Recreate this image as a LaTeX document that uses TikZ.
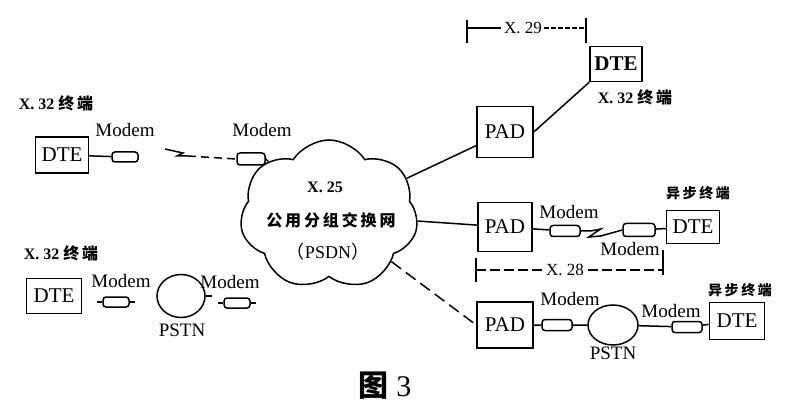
\documentclass[tikz,border=0pt]{standalone}
\usepackage{fontspec}
\setmainfont{Liberation Serif}
\newfontfamily\cjk{Noto Sans CJK SC}[LetterSpace=18]
\usetikzlibrary{positioning,shapes.geometric,shapes.symbols}

\begin{document}
\begin{tikzpicture}[x=1pt, y=-1pt,
    link/.style={line width=1.5pt},
    box/.style={draw, line width=1.5pt, inner sep=0pt, font=\fontsize{21}{23}\selectfont},
    modem/.style={draw, rounded corners=3pt, line width=1.5pt, inner sep=0pt,
      minimum width=30, minimum height=11},
    net/.style={draw, ellipse, line width=1.5pt, inner sep=0pt},
    lbl/.style={inner sep=0pt, font=\fontsize{19}{21}\selectfont},
    dim/.style={inner sep=0pt, font=\fontsize{17}{19}\selectfont},
    tag/.style={inner sep=0pt, font=\fontsize{16}{18}\selectfont\bfseries},
    cjktag/.style={inner sep=0pt, font=\cjk\bfseries\fontsize{14}{16}\selectfont}
  ]
  \useasboundingbox (0,0) rectangle (798,414);

  % X.25 分组交换网
  \node[cloud, cloud puffs=7, cloud puff arc=115, aspect=1.2, draw, line width=1.5pt,
    minimum width=178, minimum height=150, inner sep=0pt] (psdn) at (329,215) {};
  \node[tag] (x25) at (325,187) {X.\ 25};
  \node[inner sep=0pt, font=\cjk\bfseries\fontsize{16}{18}\selectfont] (gy) at (331,220) {公用分组交换网};
  \node[inner sep=0pt, font=\fontsize{18}{20}\selectfont] (psdnt) at (328,252) {{\cjk （}PSDN{\cjk ）}};

  % 左上 X.32 终端
  \node[tag] (t1) at (56,103) {X.\ 32\ {\cjk 终端}};
  \node[box, minimum width=53, minimum height=36] (dteA) at (62,155) {DTE};
  \node[modem, minimum width=26, minimum height=10] (mA) at (125,157) {};
  \node[lbl] (mAl) at (125,130) {Modem};
  \node[modem, minimum width=28, minimum height=12] (mB) at (251,159) {};
  \node[lbl] (mBl) at (262,130) {Modem};
  \coordinate (zA) at (165,149);
  \draw[link] (dteA) -- (mA);
  \draw[link] (zA) -- ++(18,4) -- ++(-6,3) -- ++(11,0) coordinate (zA2);
  \draw[link, dash pattern=on 8pt off 5pt] (zA2) -- (mB.west);
  \draw[link] (mB.east) -- (psdn);

  % 右上 PAD 与 X.32 终端
  \node[box, minimum width=56, minimum height=51] (pad1) at (505,132) {PAD};
  \node[box, minimum width=52, minimum height=35, font=\fontsize{21}{23}\selectfont\bfseries] (dteT) at (616,64) {DTE};
  \node[tag] (t2) at (635,97) {X.\ 32\ {\cjk 终端}};
  \draw[link] (psdn) -- (pad1);
  \draw[link] (pad1.east) -- (dteT.south west);

  \node[dim] (x29) at (523,28) {X.\ 29};
  \coordinate (x29a) at (467,28);
  \coordinate (x29b) at (586,28);
  \draw[link, shorten >=3pt] (x29a) -- (x29.west);
  \draw[link, dash pattern=on 5pt off 2pt, shorten <=2pt] (x29.east) -- (x29b);
  \draw[link] ([yshift=8pt]x29a) -- ([yshift=-15pt]x29a);
  \draw[link] ([yshift=10pt]x29b) -- ([yshift=-15pt]x29b);

  % 中右 异步终端
  \node[box, minimum width=54, minimum height=49] (pad2) at (505,227) {PAD};
  \node[modem] (mC) at (565,231) {};
  \node[lbl] (mCl) at (569,212) {Modem};
  \node[modem, minimum width=32, minimum height=13] (mD) at (639,230) {};
  \node[lbl] (mDl) at (630,249) {Modem};
  \node[box, minimum width=53, minimum height=33] (dteM) at (693,227) {DTE};
  \node[cjktag] (t3) at (698,193) {异步终端};
  \draw[link] (psdn) -- (pad2);
  \draw[link] (pad2) -- (mC);
  \draw[link] (mC.east) -- ++(10,0) -- ++(10,-2) -- ++(-12,8) -- ++(12,-1) -- (mD.west);
  \draw[link] (mD) -- (dteM);

  \node[dim] (x28) at (565,270) {X.\ 28};
  \coordinate (x28a) at (476,270);
  \coordinate (x28b) at (663,270);
  \draw[link, dash pattern=on 10pt off 4pt, shorten >=4pt] (x28a) -- (x28.west);
  \draw[link, dash pattern=on 10pt off 4pt, shorten <=4pt] (x28.east) -- (x28b);
  \draw[link] ([yshift=12pt]x28a) -- ([yshift=-12pt]x28a);
  \draw[link] ([yshift=20pt]x28b) -- ([yshift=-5pt]x28b);

  % 右下 经 PSTN 的异步终端
  \node[box, minimum width=56, minimum height=46] (pad3) at (505,325) {PAD};
  \node[modem] (mE) at (557,325) {};
  \node[lbl] (mEl) at (570,299) {Modem};
  \node[net, minimum width=50, minimum height=40] (pstnR) at (613,325) {};
  \node[lbl] (pstnRl) at (613,353) {PSTN};
  \node[modem] (mF) at (687,327) {};
  \node[lbl] (mFl) at (671,311) {Modem};
  \node[box, minimum width=55, minimum height=37] (dteR) at (737,321) {DTE};
  \node[cjktag] (t4) at (740,290) {异步终端};
  \draw[link, dash pattern=on 12pt off 6pt] (psdn) -- (pad3.west);
  \draw[link] (pad3) -- (mE) -- (pstnR) -- (mF) -- (dteR);

  % 左下 X.32 终端
  \node[tag] (t5) at (61,253) {X.\ 32\ {\cjk 终端}};
  \node[box, minimum width=55, minimum height=35] (dteB) at (54,296) {DTE};
  \node[modem, minimum width=26, minimum height=10] (mG) at (116,302) {};
  \node[lbl] (mGl) at (121,281) {Modem};
  \node[net, minimum width=48, minimum height=43] (pstnL) at (181,296) {};
  \node[lbl] (pstnLl) at (182,330) {PSTN};
  \node[modem, minimum width=26, minimum height=10] (mH) at (237,303) {};
  \node[lbl] (mHl) at (230,282) {Modem};
  \foreach \m in {mG,mH} {
    \draw[link] (\m.west) -- ++(-5,0);
    \draw[link] (\m.east) -- ++(5,0);
  }
  \draw[link] (pstnL.east) -- ++(6,0);

  % 图题
  \node[inner sep=0pt, font=\fontsize{30}{32}\selectfont] (cap) at (385,386) {{\cjk\bfseries 图}\ 3};
\end{tikzpicture}
\end{document}
